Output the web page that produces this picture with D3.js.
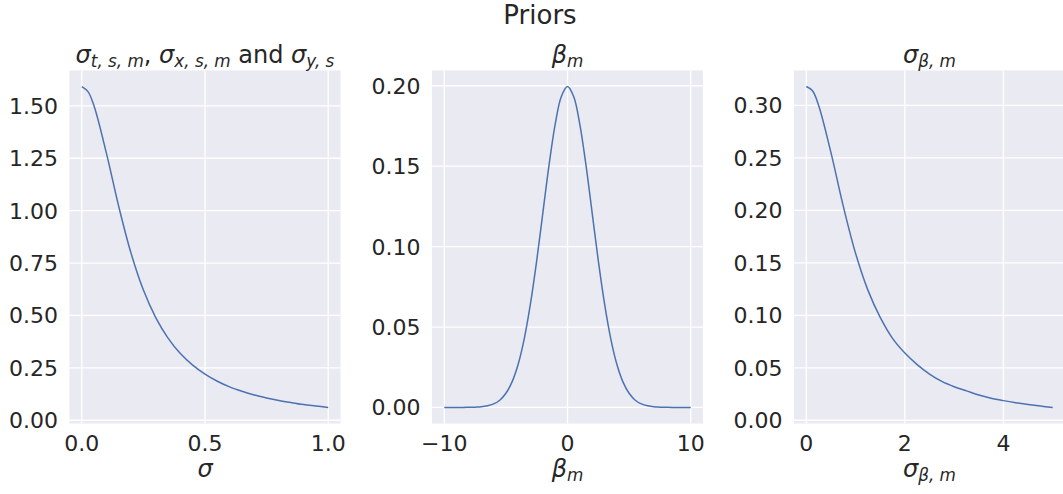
<!DOCTYPE html>
<html>
<head>
<meta charset="utf-8">
<script src="https://cdn.jsdelivr.net/npm/d3@7"></script>
<style>
  body { margin: 0; background: #fff; }
  text { font-family: "DejaVu Sans", sans-serif; fill: #262626; }
</style>
</head>
<body>
<div id="chart"></div>
<script>
// values
var sigmaX = [0, 0.025, 0.05, 0.1, 0.15, 0.2, 0.25, 0.3, 0.35, 0.4, 0.45, 0.5, 0.55, 0.6, 0.65, 0.7, 0.75, 0.8, 0.85, 0.9, 0.95, 1.0];
var sigmaY = [1.592, 1.568, 1.498, 1.273, 1.019, 0.796, 0.621, 0.490, 0.392, 0.318, 0.263, 0.220, 0.186, 0.159, 0.138, 0.120, 0.106, 0.094, 0.084, 0.075, 0.068, 0.061];

var betaX = [-10, -9.5, -9, -8.5, -8, -7.5, -7, -6.5, -6, -5.5, -5, -4.5, -4, -3.5, -3, -2.5, -2, -1.5, -1, -0.5, 0,
             0.5, 1, 1.5, 2, 2.5, 3, 3.5, 4, 4.5, 5, 5.5, 6, 6.5, 7, 7.5, 8, 8.5, 9, 9.5, 10];
var betaY = [0, 0, 0, 0, 0.0001, 0.0002, 0.0004, 0.0010, 0.0022, 0.0045, 0.0088, 0.0159, 0.0270, 0.0431, 0.0648, 0.0913, 0.1210, 0.1506, 0.1760, 0.1933, 0.1995,
             0.1933, 0.1760, 0.1506, 0.1210, 0.0913, 0.0648, 0.0431, 0.0270, 0.0159, 0.0088, 0.0045, 0.0022, 0.0010, 0.0004, 0.0002, 0.0001, 0, 0, 0, 0];

var sbX = [0, 0.125, 0.25, 0.5, 0.75, 1, 1.25, 1.5, 1.75, 2, 2.25, 2.5, 2.75, 3, 3.25, 3.5, 3.75, 4, 4.25, 4.5, 4.75, 5];
var sbY = [0.318, 0.314, 0.300, 0.255, 0.204, 0.159, 0.124, 0.098, 0.078, 0.064, 0.053, 0.044, 0.037, 0.032, 0.028, 0.024, 0.021, 0.0187, 0.0167, 0.0150, 0.0135, 0.0122];

var ticks1X = [0, 0.5, 1.0], ticks1Y = [0, 0.25, 0.5, 0.75, 1.0, 1.25, 1.5];
var ticks2X = [-10, 0, 10], ticks2Y = [0, 0.05, 0.1, 0.15, 0.2];
var ticks3X = [0, 2, 4], ticks3Y = [0, 0.05, 0.1, 0.15, 0.2, 0.25, 0.3];

var W = 1063, H = 494;
var plotTop = 70.5, ph = 353, pw = 271;

var svg = d3.select("#chart").append("svg")
  .attr("width", W).attr("height", H);

svg.append("text")
  .attr("x", 540).attr("y", 24)
  .attr("text-anchor", "middle")
  .style("font-size", "26px")
  .text("Priors");

// draws mathtext-like pieces: [text, italic, subscript]
function mathText(sel, parts) {
  var prevSub = false;
  parts.forEach(function(p) {
    var t = sel.append("tspan").text(p[0]);
    if (p[1]) t.style("font-style", "italic");
    if (p[2]) t.style("font-size", "70%");
    if (p[2] && !prevSub) t.attr("dy", 4);
    if (!p[2] && prevSub) t.attr("dy", -4);
    prevSub = p[2];
  });
}

function panel(left, xs, ys, xTicks, yTicks, xFmt, yFmt, titleParts, labelParts) {
  var xe = d3.extent(xs), ye = d3.extent(ys);
  var xp = (xe[1] - xe[0]) * 0.05, yp = (ye[1] - ye[0]) * 0.05;
  var x = d3.scaleLinear().domain([xe[0] - xp, xe[1] + xp]).range([left, left + pw]);
  var y = d3.scaleLinear().domain([ye[0] - yp, ye[1] + yp]).range([plotTop + ph, plotTop]);

  var g = svg.append("g");
  g.append("rect")
    .attr("x", left).attr("y", plotTop)
    .attr("width", pw).attr("height", ph)
    .attr("fill", "#EAEAF2");

  g.selectAll(".gx").data(xTicks).enter().append("line")
    .attr("x1", function(d) { return x(d); }).attr("x2", function(d) { return x(d); })
    .attr("y1", plotTop).attr("y2", plotTop + ph)
    .attr("stroke", "#fff").attr("stroke-width", 1.3);
  g.selectAll(".gy").data(yTicks).enter().append("line")
    .attr("x1", left).attr("x2", left + pw)
    .attr("y1", function(d) { return y(d); }).attr("y2", function(d) { return y(d); })
    .attr("stroke", "#fff").attr("stroke-width", 1.3);

  g.append("path")
    .datum(d3.zip(xs, ys))
    .attr("fill", "none")
    .attr("stroke", "#4C72B0")
    .attr("stroke-width", 1.5)
    .attr("d", d3.line()
      .x(function(d) { return x(d[0]); })
      .y(function(d) { return y(d[1]); })
      .curve(d3.curveCatmullRom.alpha(0.5)));

  g.selectAll(".tx").data(xTicks).enter().append("text")
    .attr("x", function(d) { return x(d); })
    .attr("y", 451)
    .attr("text-anchor", "middle")
    .style("font-size", "22px")
    .text(xFmt);
  g.selectAll(".ty").data(yTicks).enter().append("text")
    .attr("x", left - 11.5)
    .attr("y", function(d) { return y(d); })
    .attr("dy", "0.36em")
    .attr("text-anchor", "end")
    .style("font-size", "22px")
    .text(yFmt);

  var t = g.append("text")
    .attr("x", left + pw / 2).attr("y", 63)
    .attr("text-anchor", "middle")
    .style("font-size", "24px");
  mathText(t, titleParts);

  var l = g.append("text")
    .attr("x", left + pw / 2).attr("y", 477)
    .attr("text-anchor", "middle")
    .style("font-size", "24px");
  mathText(l, labelParts);
}

var minus = function(d) { return d < 0 ? "\u2212" + Math.abs(d) : String(d); };

panel(69.5, sigmaX, sigmaY, ticks1X, ticks1Y, d3.format(".1f"), d3.format(".2f"),
  [["σ", true, false], ["t, s, m", true, true], [", ", false, false], ["σ", true, false], ["x, s, m", true, true],
   [" and ", false, false], ["σ", true, false], ["y, s", true, true]],
  [["σ", true, false]]);

panel(432, betaX, betaY, ticks2X, ticks2Y, minus, d3.format(".2f"),
  [["β", true, false], ["m", true, true]],
  [["β", true, false], ["m", true, true]]);

panel(794, sbX, sbY, ticks3X, ticks3Y, minus, d3.format(".2f"),
  [["σ", true, false], ["β, m", true, true]],
  [["σ", true, false], ["β, m", true, true]]);
</script>
</body>
</html>
